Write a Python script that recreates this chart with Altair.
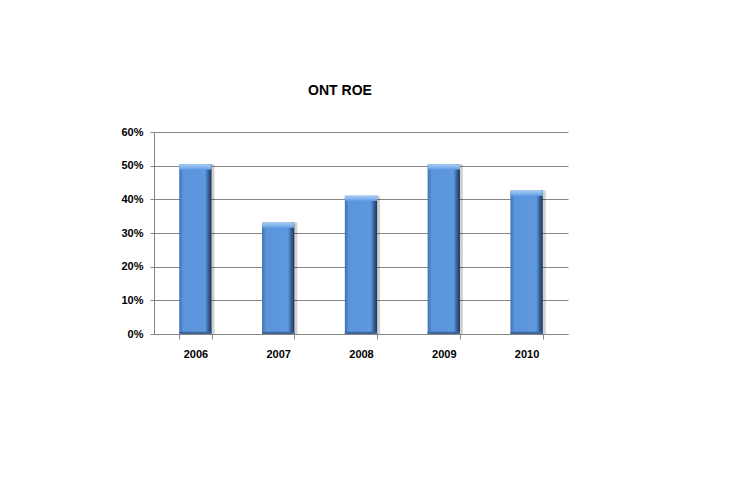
import altair as alt
import pandas as pd

years = ["2006", "2007", "2008", "2009", "2010"]
roe = [50.4, 33.1, 41.1, 50.4, 42.6]  # percent
y_ticks = [0, 10, 20, 30, 40, 50, 60]

df = pd.DataFrame({"year": years, "roe": roe})

FONT = "Liberation Sans"

x_axis = alt.Axis(
    title=None, labelAngle=0, labelFont=FONT, labelFontSize=11,
    labelFontWeight="bold", labelColor="#000000", labelPadding=9,
    tickBand="extent", tickSize=5, tickColor="#868686",
    domainColor="#868686", grid=False,
)
y_axis = alt.Axis(
    title=None, values=y_ticks, labelExpr="datum.value + '%'",
    labelFont=FONT, labelFontSize=11, labelFontWeight="bold",
    labelColor="#000000", labelPadding=7, tickSize=4,
    tickColor="#868686", domainColor="#868686", labelOverlap=False,
    gridColor="#868686", gridWidth=1, gridOpacity=1, grid=True,
)
x_scale = alt.Scale(paddingInner=0.61, paddingOuter=0.305)
y_scale = alt.Scale(domain=[0, 60], nice=False)


def X():
    return alt.X("year:N", sort=years, scale=x_scale, axis=x_axis)


def Y(field):
    return alt.Y(field, scale=y_scale, axis=y_axis)


base = alt.Chart(df)

shadow = base.mark_bar(color="#000000", opacity=0.18, xOffset=3).encode(
    x=X(), y=Y("roe:Q"),
)

body = base.mark_bar(
    color=alt.Gradient(
        gradient="linear", x1=0, x2=1, y1=0, y2=0,
        stops=[
            alt.GradientStop(color="#3f70b0", offset=0),
            alt.GradientStop(color="#5a94db", offset=0.12),
            alt.GradientStop(color="#5e99e0", offset=0.8),
            alt.GradientStop(color="#3a6299", offset=0.9),
            alt.GradientStop(color="#1c3456", offset=1),
        ],
    )
).encode(x=X(), y=Y("roe:Q"))

cap = base.transform_calculate(capb="datum.roe - 1.6").mark_bar(
    color=alt.Gradient(
        gradient="linear", x1=0, x2=0, y1=0, y2=1,
        stops=[
            alt.GradientStop(color="#a9cdf5", offset=0),
            alt.GradientStop(color="#7fb1ec", offset=0.6),
            alt.GradientStop(color="#5e99e0", offset=1),
        ],
    )
).encode(x=X(), y=Y("roe:Q"), y2="capb:Q")

bottom = base.transform_calculate(b0="0", b1="0.7").mark_bar(
    color="#3d679c"
).encode(x=X(), y=Y("b1:Q"), y2="b0:Q")

chart = alt.layer(shadow, body, cap, bottom).properties(
    width=414,
    height=202,
    autosize="none",
    background="#ffffff",
    padding={"left": 146, "top": 124, "right": 170, "bottom": 150},
    title=alt.TitleParams(
        "ONT ROE", font=FONT, fontSize=14, fontWeight="bold",
        color="#000000", frame="group", anchor="middle",
        baseline="alphabetic", offset=17, dx=-21,
    ),
).configure_view(strokeWidth=0, stroke="transparent")

chart.save("out.html", embed_options={"renderer": "svg", "actions": False})
